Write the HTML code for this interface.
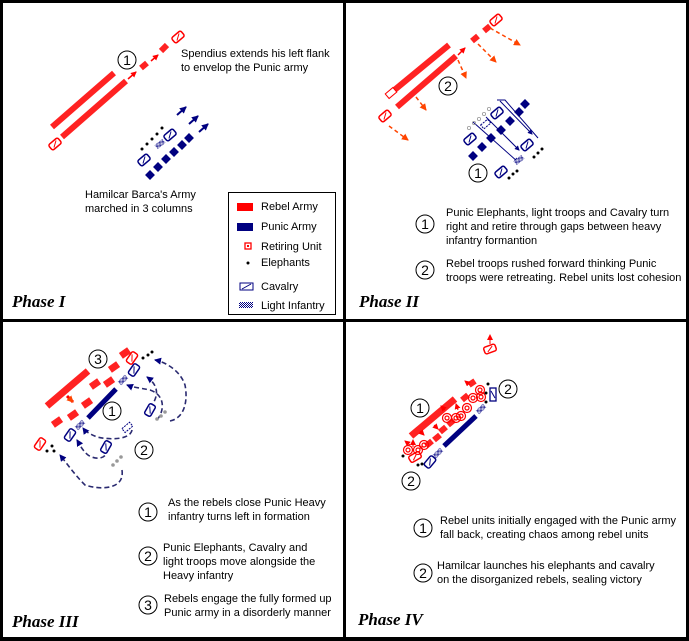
<!DOCTYPE html>
<html><head><meta charset="utf-8"><style>
html,body{margin:0;padding:0;background:#000}
svg{display:block}
.t{font-family:"Liberation Sans",sans-serif;font-size:11px;fill:#000}
.ph{font-family:"Liberation Serif",serif;font-style:italic;font-weight:bold;font-size:17px;fill:#000}
.cn{font-family:"Liberation Sans",sans-serif;font-size:14px;fill:#000;text-anchor:middle}
</style></head><body>
<svg width="689" height="641" viewBox="0 0 689 641" xmlns="http://www.w3.org/2000/svg">
<defs>
<pattern id="hatch" width="2" height="2" patternUnits="userSpaceOnUse"><rect width="2" height="2" fill="#fff"/><rect width="1" height="1" fill="#000080"/><rect x="1" y="1" width="1" height="1" fill="#000080"/></pattern>
<marker id="ar" markerUnits="userSpaceOnUse" markerWidth="6" markerHeight="6" refX="5" refY="3" orient="auto"><path d="M0,0L6,3L0,6z" fill="#f00"/></marker>
<marker id="ao" markerUnits="userSpaceOnUse" markerWidth="7" markerHeight="7" refX="6" refY="3.5" orient="auto"><path d="M0,0L7,3.5L0,7z" fill="#f40"/></marker>
<marker id="ab" markerUnits="userSpaceOnUse" markerWidth="7" markerHeight="7" refX="6" refY="3.5" orient="auto"><path d="M0,0L7,3.5L0,7z" fill="#000080"/></marker>
<marker id="abs" markerUnits="userSpaceOnUse" markerWidth="5" markerHeight="5" refX="4" refY="2.5" orient="auto"><path d="M0,0L5,2.5L0,5z" fill="#000080"/></marker>
<g id="cav"><rect x="-6" y="-3.5" width="12" height="7" rx="2" fill="#fff" stroke="#000080" stroke-width="1.5"/><line x1="-3" y1="2" x2="3" y2="-2" stroke="#000080"/></g>
<g id="rcav"><rect x="-6" y="-3.5" width="12" height="7" rx="2" fill="#fff" stroke="#f00" stroke-width="1.5"/><line x1="-3" y1="2" x2="3" y2="-2" stroke="#f00"/></g>
<g id="sq"><rect x="-3.5" y="-3.5" width="7" height="7" fill="#000080"/></g>
<g id="li"><rect x="-5" y="-2.5" width="10" height="5" fill="url(#hatch)"/></g>
<g id="ret"><circle r="4.5" fill="none" stroke="#f00" stroke-width="1.2"/><circle r="2" fill="none" stroke="#f00" stroke-width="1.2"/></g>
</defs>
<rect width="689" height="641" fill="#000"/>
<rect x="3" y="3" width="340" height="316" fill="#fff"/>
<rect x="346" y="3" width="340" height="316" fill="#fff"/>
<rect x="3" y="322" width="340" height="315" fill="#fff"/>
<rect x="346" y="322" width="340" height="315" fill="#fff"/>

<!-- Phase I -->
<g stroke="#f22" stroke-width="6" fill="none">
<line x1="52" y1="127" x2="114" y2="73"/>
<line x1="62" y1="137" x2="126" y2="81"/>
<line x1="141" y1="68" x2="147" y2="63"/>
<line x1="161" y1="51" x2="167" y2="45"/>
</g>
<g stroke="#f00" stroke-width="1.5" marker-end="url(#ar)"><line x1="128" y1="79" x2="136" y2="72"/><line x1="151" y1="61" x2="158" y2="55"/></g>
<use href="#rcav" transform="translate(178,37) rotate(-40)"/>
<use href="#rcav" transform="translate(55,144) rotate(-40)"/>
<circle cx="127" cy="60" r="9" fill="#fff" stroke="#000"/><text class="cn" x="127" y="65">1</text>
<text class="t" x="181" y="57">Spendius extends his left flank</text>
<text class="t" x="181" y="71">to envelop the Punic army</text>
<g><use href="#sq" transform="translate(150,175) rotate(45)"/><use href="#sq" transform="translate(158,167) rotate(45)"/><use href="#sq" transform="translate(166,159) rotate(45)"/><use href="#sq" transform="translate(174,152) rotate(45)"/><use href="#sq" transform="translate(182,145) rotate(45)"/><use href="#sq" transform="translate(189,138) rotate(45)"/></g>
<use href="#cav" transform="translate(144,160) rotate(-40)"/>
<use href="#cav" transform="translate(170,135) rotate(-40)"/>
<use href="#li" transform="translate(160,144) rotate(-40)"/>
<g fill="#000"><circle cx="142" cy="149" r="1.5"/><circle cx="147" cy="144" r="1.5"/><circle cx="152" cy="139" r="1.5"/><circle cx="157" cy="134" r="1.5"/><circle cx="162" cy="128" r="1.5"/></g>
<g stroke="#000080" stroke-width="2" marker-end="url(#ab)"><line x1="177" y1="115" x2="186" y2="107"/><line x1="189" y1="124" x2="198" y2="116"/><line x1="199" y1="132" x2="208" y2="124"/></g>
<text class="t" x="85" y="198">Hamilcar Barca's Army</text>
<text class="t" x="85" y="212">marched in 3 columns</text>
<rect x="228.5" y="192.5" width="107" height="122" fill="#fff" stroke="#000"/>
<rect x="237" y="203" width="16" height="8" fill="#f00"/><text class="t" x="261" y="210">Rebel Army</text>
<rect x="237" y="223" width="16" height="8" fill="#000080"/><text class="t" x="261" y="230">Punic Army</text>
<rect x="245" y="243" width="6" height="6" fill="none" stroke="#f00" stroke-width="1.3"/><rect x="247" y="245" width="2" height="2" fill="#f00"/><text class="t" x="261" y="250">Retiring Unit</text>
<circle cx="248" cy="263" r="1.5" fill="#000"/><text class="t" x="261" y="266">Elephants</text>
<rect x="240" y="283" width="13" height="7" fill="#fff" stroke="#000080"/><line x1="242" y1="289" x2="251" y2="284" stroke="#000080"/><text class="t" x="261" y="290">Cavalry</text>
<rect x="239" y="302" width="14" height="6" fill="url(#hatch)"/><text class="t" x="261" y="309">Light Infantry</text>
<text class="ph" x="12" y="307">Phase I</text>

<!-- Phase II -->
<g stroke="#f22" stroke-width="6" fill="none">
<line x1="392" y1="92" x2="449" y2="45"/>
<line x1="397" y1="107" x2="456" y2="56"/>
<line x1="472" y1="41" x2="478" y2="36"/>
<line x1="484" y1="31" x2="490" y2="26"/>
</g>
<g stroke="#f40" stroke-width="1.5" stroke-dasharray="4,3" marker-end="url(#ao)" fill="none">
<line x1="490" y1="28" x2="520" y2="45"/><line x1="478" y1="44" x2="496" y2="62"/><line x1="458" y1="60" x2="466" y2="78"/><line x1="416" y1="97" x2="426" y2="110"/><line x1="389" y1="126" x2="408" y2="140"/>
</g>
<line x1="458" y1="55" x2="465" y2="48" stroke="#f00" stroke-width="1.5" marker-end="url(#ar)"/>
<rect x="386" y="90" width="10" height="6" fill="#fff" stroke="#f00" transform="rotate(-40 391 93)"/>
<use href="#rcav" transform="translate(385,116) rotate(-40)"/>
<use href="#rcav" transform="translate(496,20) rotate(-40)"/>
<circle cx="448" cy="86" r="9" fill="#fff" stroke="#000"/><text class="cn" x="448" y="91">2</text>
<g stroke="#000080" fill="none" stroke-width="1">
<path d="M500,101 L532,134" marker-end="url(#abs)"/><path d="M497,100 L505,100 L538,138"/>
<path d="M473,122 L518,162" marker-end="url(#abs)"/><path d="M486,117 L519,150" marker-end="url(#abs)"/>
</g>
<g><use href="#sq" transform="translate(473,156) rotate(45)"/><use href="#sq" transform="translate(482,147) rotate(45)"/><use href="#sq" transform="translate(491,138) rotate(45)"/><use href="#sq" transform="translate(501,130) rotate(45)"/><use href="#sq" transform="translate(510,121) rotate(45)"/><use href="#sq" transform="translate(519,112) rotate(45)"/><use href="#sq" transform="translate(525,104) rotate(45)"/></g>
<use href="#cav" transform="translate(470,139) rotate(-40)"/>
<use href="#cav" transform="translate(497,113) rotate(-40)"/>
<use href="#cav" transform="translate(501,172) rotate(-40)"/>
<use href="#cav" transform="translate(527,145) rotate(-40)"/>
<use href="#li" transform="translate(519,160) rotate(-40)"/>
<rect x="481" y="122" width="9" height="5" fill="none" stroke="#000080" stroke-dasharray="2,1" transform="rotate(-40 485 124)"/>
<g fill="none" stroke="#999" stroke-width="0.8"><circle cx="469" cy="128" r="1.6"/><circle cx="474" cy="123" r="1.6"/><circle cx="479" cy="119" r="1.6"/><circle cx="484" cy="114" r="1.6"/><circle cx="489" cy="109" r="1.6"/></g>
<g fill="#000"><circle cx="509" cy="178" r="1.5"/><circle cx="513" cy="174" r="1.5"/><circle cx="517" cy="171" r="1.5"/><circle cx="534" cy="157" r="1.5"/><circle cx="538" cy="153" r="1.5"/><circle cx="542" cy="149" r="1.5"/></g>
<circle cx="478" cy="173" r="9" fill="#fff" stroke="#000"/><text class="cn" x="478" y="178">1</text>
<circle cx="425" cy="224" r="9" fill="#fff" stroke="#000"/><text class="cn" x="425" y="229">1</text>
<text class="t" x="446" y="216">Punic Elephants, light troops and Cavalry turn</text>
<text class="t" x="446" y="230">right and retire through gaps between heavy</text>
<text class="t" x="446" y="244">infantry formantion</text>
<circle cx="425" cy="270" r="9" fill="#fff" stroke="#000"/><text class="cn" x="425" y="275">2</text>
<text class="t" x="446" y="267">Rebel troops rushed forward thinking Punic</text>
<text class="t" x="446" y="281">troops were retreating. Rebel units lost cohesion</text>
<text class="ph" x="359" y="307">Phase II</text>

<!-- Phase III -->
<line x1="47" y1="406" x2="88" y2="371" stroke="#f22" stroke-width="7"/>
<g fill="#f22">
<rect x="-5" y="-3.5" width="10" height="7" transform="translate(125,353) rotate(-35)"/>
<rect x="-5" y="-3.5" width="10" height="7" transform="translate(114,367) rotate(-35)"/>
<rect x="-5" y="-3.5" width="10" height="7" transform="translate(95,384) rotate(-35)"/>
<rect x="-5" y="-3.5" width="10" height="7" transform="translate(109,382) rotate(-35)"/>
<rect x="-5" y="-3.5" width="10" height="7" transform="translate(87,403) rotate(-35)"/>
<rect x="-5" y="-3.5" width="10" height="7" transform="translate(73,415) rotate(-35)"/>
<rect x="-5" y="-3.5" width="10" height="7" transform="translate(57,422) rotate(-35)"/>
</g>
<path d="M67,396 L73,402" stroke="#f00" stroke-width="3" marker-end="url(#ao)"/>
<line x1="88" y1="418" x2="116" y2="389" stroke="#000080" stroke-width="5"/>
<use href="#li" transform="translate(80,425) rotate(-45)"/>
<use href="#li" transform="translate(123,380) rotate(-45)"/>
<use href="#cav" transform="translate(70,435) rotate(-55)"/>
<use href="#cav" transform="translate(134,370) rotate(-55)"/>
<use href="#rcav" transform="translate(132,358) rotate(-55)"/>
<use href="#rcav" transform="translate(40,444) rotate(-55)"/>
<g fill="#000"><circle cx="47" cy="451" r="1.5"/><circle cx="52" cy="446" r="1.5"/><circle cx="54" cy="451" r="1.5"/><circle cx="143" cy="358" r="1.5"/><circle cx="148" cy="355" r="1.5"/><circle cx="152" cy="352" r="1.5"/></g>
<g fill="none" stroke="#2a2a70" stroke-width="1.6" stroke-dasharray="5,3">
<path d="M122,470 C125,490 100,490 85,485 C75,475 68,465 60,455" marker-end="url(#ab)"/>
<path d="M107,448 C108,460 95,460 88,455 C82,450 80,445 77,440" marker-end="url(#ab)"/>
<path d="M132,430 C130,440 110,440 97,437 C90,434 86,432 83,428" marker-end="url(#ab)"/>
<path d="M157,420 C165,410 165,395 150,390 C140,388 132,387 127,385" marker-end="url(#ab)"/>
<path d="M150,408 C160,395 158,385 147,377" marker-end="url(#ab)"/>
<path d="M170,421 C185,418 188,400 185,385 C180,370 165,362 155,360" marker-end="url(#ab)"/>
</g>
<use href="#cav" transform="translate(106,447) rotate(-60)"/>
<use href="#cav" transform="translate(150,410) rotate(-60)"/>
<rect x="122" y="425" width="10" height="5" fill="none" stroke="#000080" stroke-dasharray="2,1" transform="rotate(-40 127 427)"/>
<g fill="#999"><circle cx="113" cy="465" r="1.8"/><circle cx="117" cy="461" r="1.8"/><circle cx="121" cy="457" r="1.8"/><circle cx="157" cy="419" r="1.8"/><circle cx="161" cy="416" r="1.8"/><circle cx="165" cy="412" r="1.8"/></g>
<circle cx="98" cy="359" r="9" fill="#fff" stroke="#000"/><text class="cn" x="98" y="364">3</text>
<circle cx="112" cy="411" r="9" fill="#fff" stroke="#000"/><text class="cn" x="112" y="416">1</text>
<circle cx="144" cy="450" r="9" fill="#fff" stroke="#000"/><text class="cn" x="144" y="455">2</text>
<circle cx="148" cy="512" r="9" fill="#fff" stroke="#000"/><text class="cn" x="148" y="517">1</text>
<text class="t" x="168" y="506">As the rebels close Punic Heavy</text>
<text class="t" x="168" y="520">infantry turns left in formation</text>
<circle cx="148" cy="556" r="9" fill="#fff" stroke="#000"/><text class="cn" x="148" y="561">2</text>
<text class="t" x="163" y="551">Punic Elephants, Cavalry and</text>
<text class="t" x="163" y="565">light troops move alongside the</text>
<text class="t" x="163" y="579">Heavy infantry</text>
<circle cx="148" cy="605" r="9" fill="#fff" stroke="#000"/><text class="cn" x="148" y="610">3</text>
<text class="t" x="164" y="602">Rebels engage the fully formed up</text>
<text class="t" x="164" y="616">Punic army in a disorderly manner</text>
<text class="ph" x="12" y="627">Phase III</text>

<!-- Phase IV -->
<line x1="411" y1="436" x2="455" y2="399" stroke="#f22" stroke-width="7"/>
<g stroke="#f22" stroke-width="6">
<line x1="426" y1="446" x2="432" y2="441"/><line x1="434" y1="440" x2="440" y2="435"/><line x1="440" y1="432" x2="446" y2="427"/><line x1="448" y1="425" x2="454" y2="420"/><line x1="462" y1="400" x2="468" y2="395"/><line x1="469" y1="385" x2="475" y2="381"/>
</g>
<line x1="444" y1="446" x2="476" y2="416" stroke="#000080" stroke-width="5"/>
<use href="#li" transform="translate(438,453) rotate(-45)"/>
<use href="#li" transform="translate(481,409) rotate(-45)"/>
<use href="#cav" transform="translate(430,462) rotate(-50)"/>
<rect x="490" y="388" width="6" height="13" fill="#fff" stroke="#000080" stroke-width="1.3"/><line x1="491" y1="391" x2="495" y2="398" stroke="#000080"/>
<use href="#rcav" transform="translate(490,349) rotate(-20)"/>
<line x1="490" y1="344" x2="490" y2="335" stroke="#f00" marker-end="url(#ar)"/>
<use href="#rcav" transform="translate(415,457) rotate(-30)"/>
<g><use href="#ret" transform="translate(408,450)"/><use href="#ret" transform="translate(418,450)"/><use href="#ret" transform="translate(424,445)"/><use href="#ret" transform="translate(447,418)"/><use href="#ret" transform="translate(456,418)"/><use href="#ret" transform="translate(461,416)"/><use href="#ret" transform="translate(467,408)"/><use href="#ret" transform="translate(480,390)"/><use href="#ret" transform="translate(481,397)"/><use href="#ret" transform="translate(473,398)"/></g>
<g fill="#000"><circle cx="403" cy="456" r="1.5"/><circle cx="418" cy="465" r="1.5"/><circle cx="422" cy="464" r="1.5"/><circle cx="488" cy="384" r="1.5"/><circle cx="486" cy="393" r="1.5"/><circle cx="486" cy="402" r="1.5"/></g>
<g stroke="#f00" stroke-width="1" marker-end="url(#ar)"><line x1="410" y1="445" x2="405" y2="441"/><line x1="413" y1="447" x2="413" y2="440"/><line x1="420" y1="431" x2="424" y2="435"/><line x1="434" y1="425" x2="438" y2="429"/><line x1="445" y1="410" x2="441" y2="406"/><line x1="458" y1="410" x2="456" y2="404"/><line x1="470" y1="385" x2="465" y2="381"/></g>
<circle cx="420" cy="408" r="9" fill="#fff" stroke="#000"/><text class="cn" x="420" y="413">1</text>
<circle cx="508" cy="389" r="9" fill="#fff" stroke="#000"/><text class="cn" x="508" y="394">2</text>
<circle cx="411" cy="481" r="9" fill="#fff" stroke="#000"/><text class="cn" x="411" y="486">2</text>
<circle cx="423" cy="528" r="9" fill="#fff" stroke="#000"/><text class="cn" x="423" y="533">1</text>
<text class="t" x="440" y="524">Rebel units initially engaged with the Punic army</text>
<text class="t" x="440" y="538">fall back, creating chaos among rebel units</text>
<circle cx="423" cy="573" r="9" fill="#fff" stroke="#000"/><text class="cn" x="423" y="578">2</text>
<text class="t" x="437" y="569">Hamilcar launches his elephants and cavalry</text>
<text class="t" x="437" y="583">on the disorganized rebels, sealing victory</text>
<text class="ph" x="358" y="625">Phase IV</text>
</svg>
</body></html>
